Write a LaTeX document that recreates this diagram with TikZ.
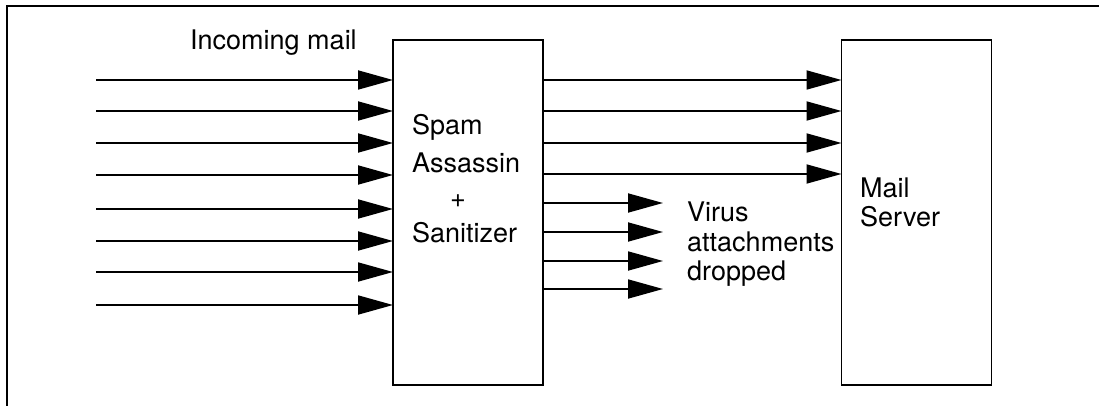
\documentclass[tikz,border=0pt]{standalone}
\usepackage{fontspec}
\setmainfont{TeX Gyre Heros}
\usetikzlibrary{arrows.meta}
\begin{document}
\begin{tikzpicture}[x=1pt,y=-1pt,
  box/.style={draw,line width=1.8pt,minimum width=150pt,minimum height=345pt,inner sep=0pt,outer sep=0pt},
  arr/.style={line width=1.8pt,-{Triangle[length=35pt,width=19pt]}},
  lbl/.style={anchor=base west,inner sep=0pt,font=\fontsize{27}{30}\selectfont},
  frame/.style={line width=1.5pt}]
\useasboundingbox (0,0) rectangle (1099,406);
\draw[frame] (7,406) -- (7,6) -- (1099,6);
\node[box] (sa) at (468,212.5) {};
\node[box] (ms) at (916.5,212.5) {};
% labels
\node[lbl] (inc) at (190,50) {Incoming mail};
\node[lbl] (t1) at (412,135) {Spam};
\node[lbl] (t2) at (412,172) {Assassin};
\node[lbl,anchor=base] (t3) at (458,207) {+};
\node[lbl] (t4) at (412,242) {Sanitizer};
\node[lbl] (v1t) at (687,221) {Virus};
\node[lbl] (v2t) at (687,251) {attachments};
\node[lbl] (v3t) at (687,280) {dropped};
\node[lbl] (m1) at (860,197) {Mail};
\node[lbl] (m2) at (860,226) {Server};
% incoming arrows
\foreach \i/\y in {1/80,2/111,3/143,4/175,5/209,6/241,7/272,8/305}{
  \coordinate (in\i) at (96,\y);
  \draw[arr] (in\i) -- (in\i -| sa.west);
}
% to server
\foreach \i/\y in {1/80,2/111,3/143,4/174}{
  \coordinate (o\i) at (700,\y);
  \draw[arr] (sa.east |- o\i) -- (ms.west |- o\i);
}
% virus dropped
\foreach \i/\y in {1/203,2/232,3/261,4/289}{
  \coordinate (v\i) at (663,\y);
  \draw[arr] (sa.east |- v\i) -- (v\i);
}
\end{tikzpicture}
\end{document}
